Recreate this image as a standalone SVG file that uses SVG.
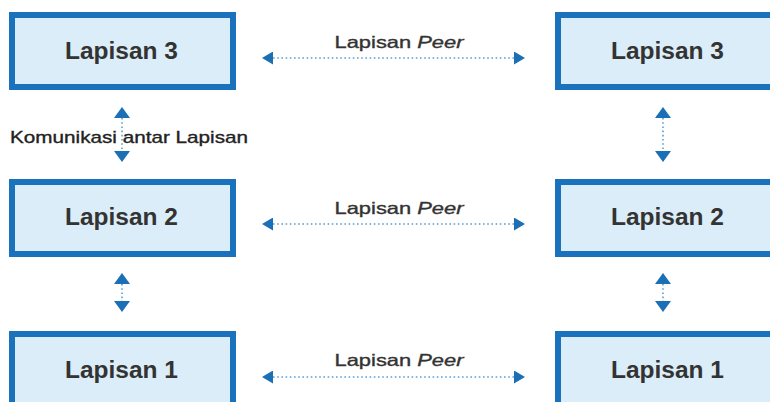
<svg xmlns="http://www.w3.org/2000/svg" width="770" height="402" viewBox="0 0 770 402">
<style>
.box{fill:#dbedf8;stroke:#1a72bd;stroke-width:6}
.lbl{font-family:"Liberation Sans",Arial,sans-serif;font-weight:bold;font-size:23px;fill:#333;text-anchor:middle}
.peer{font-family:"Liberation Sans",Arial,sans-serif;font-size:16.5px;fill:#333;stroke:#333;stroke-width:0.35;text-anchor:middle}
.kom{font-family:"Liberation Sans",Arial,sans-serif;font-size:17px;fill:#222;stroke:#222;stroke-width:0.35}
.dot{stroke:#5a9fd6;stroke-width:1.6;stroke-dasharray:1.6 2.6;fill:none}
</style>
<defs>
<marker id="ah" viewBox="0 0 11 13" refX="0" refY="6.5" markerWidth="11" markerHeight="13" markerUnits="userSpaceOnUse" orient="auto-start-reverse">
<path d="M0,0 L11,6.5 L0,13 Z" fill="#1a6fb5"/>
</marker>
<marker id="av" viewBox="0 0 11 16" refX="0" refY="8" markerWidth="11" markerHeight="16" markerUnits="userSpaceOnUse" orient="auto-start-reverse">
<path d="M0,0 L11,8 L0,16 Z" fill="#1a6fb5"/>
</marker>
</defs>
<rect width="770" height="402" fill="#fff"/>
<g id="L3a"><rect class="box" x="12" y="15" width="221" height="72"/><text class="lbl" x="121.5" y="59" textLength="113" lengthAdjust="spacingAndGlyphs">Lapisan 3</text></g>
<g id="L2a"><rect class="box" x="12" y="182" width="221" height="72"/><text class="lbl" x="121.5" y="225" textLength="113" lengthAdjust="spacingAndGlyphs">Lapisan 2</text></g>
<g id="L1a"><rect class="box" x="12" y="334" width="221" height="72"/><text class="lbl" x="121.5" y="378" textLength="113" lengthAdjust="spacingAndGlyphs">Lapisan 1</text></g>
<g id="L3b"><rect class="box" x="558" y="15" width="230" height="72"/><text class="lbl" x="667.5" y="59" textLength="113" lengthAdjust="spacingAndGlyphs">Lapisan 3</text></g>
<g id="L2b"><rect class="box" x="558" y="182" width="230" height="72"/><text class="lbl" x="667.5" y="225" textLength="113" lengthAdjust="spacingAndGlyphs">Lapisan 2</text></g>
<g id="L1b"><rect class="box" x="558" y="334" width="230" height="72"/><text class="lbl" x="667.5" y="378" textLength="113" lengthAdjust="spacingAndGlyphs">Lapisan 1</text></g>
<g id="connectors">
<line class="dot" x1="273" y1="58" x2="514" y2="58" marker-start="url(#ah)" marker-end="url(#ah)"/>
<line class="dot" x1="273" y1="224" x2="514" y2="224" marker-start="url(#ah)" marker-end="url(#ah)"/>
<line class="dot" x1="273" y1="377" x2="514" y2="377" marker-start="url(#ah)" marker-end="url(#ah)"/>
<line class="dot" x1="122" y1="118" x2="122" y2="151" marker-start="url(#av)" marker-end="url(#av)"/>
<line class="dot" x1="663" y1="118" x2="663" y2="151" marker-start="url(#av)" marker-end="url(#av)"/>
<line class="dot" x1="122" y1="284" x2="122" y2="301" marker-start="url(#av)" marker-end="url(#av)"/>
<line class="dot" x1="663" y1="284" x2="663" y2="301" marker-start="url(#av)" marker-end="url(#av)"/>
</g>
<text class="peer" x="399" y="47.5" textLength="129" lengthAdjust="spacingAndGlyphs">Lapisan <tspan font-style="italic">Peer</tspan></text>
<text class="peer" x="399" y="213.5" textLength="129" lengthAdjust="spacingAndGlyphs">Lapisan <tspan font-style="italic">Peer</tspan></text>
<text class="peer" x="399" y="365.5" textLength="129" lengthAdjust="spacingAndGlyphs">Lapisan <tspan font-style="italic">Peer</tspan></text>
<text class="kom" x="10" y="143" textLength="238" lengthAdjust="spacingAndGlyphs">Komunikasi antar Lapisan</text>
</svg>
